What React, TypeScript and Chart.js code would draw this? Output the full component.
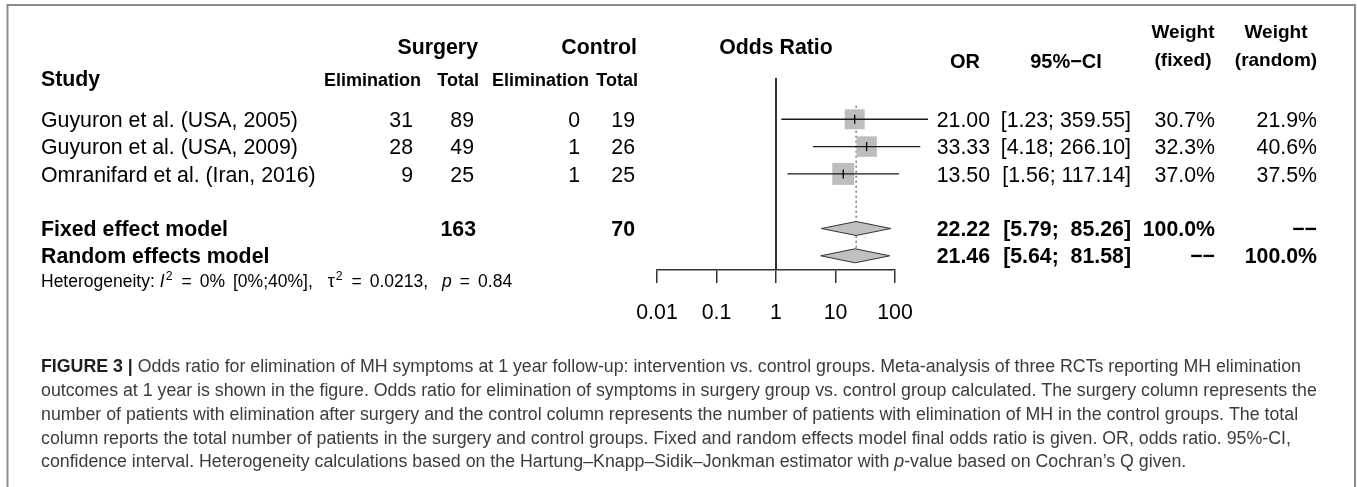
import React, { useEffect, useRef } from "react";
import { Chart, registerables } from "chart.js";

Chart.register(...registerables);

// ---------------- data ----------------
const studyLabels = [
  "Guyuron et al. (USA, 2005)",
  "Guyuron et al. (USA, 2009)",
  "Omranifard et al. (Iran, 2016)",
];
const surgeryElimination = [31, 28, 9];
const surgeryTotal = [89, 49, 25];
const controlElimination = [0, 1, 1];
const controlTotal = [19, 26, 25];
const studyOR = [21.0, 33.33, 13.5];
const studyLower = [1.23, 4.18, 1.56];
const studyUpper = [359.55, 266.1, 117.14];
const studyWeightFixed = [30.7, 32.3, 37.0];
const studyWeightRandom = [21.9, 40.6, 37.5];

const modelLabels = ["Fixed effect model", "Random effects model"];
const modelOR = [22.22, 21.46];
const modelLower = [5.79, 5.64];
const modelUpper = [85.26, 81.58];
const modelWeightFixed = [100.0, null];
const modelWeightRandom = [null, 100.0];
const modelSurgeryTotal = [163, null];
const modelControlTotal = [70, null];

const xTickValues = [0.01, 0.1, 1, 10, 100];
const xTickLabels = ["0.01", "0.1", "1", "10", "100"];

const hetI2 = "0%";
const hetI2Interval = "[0%;40%],";
const hetTau2 = "0.0213,";
const hetP = "0.84";

const captionLines = [
  [
    { t: "FIGURE 3 | ", bold: true, color: "#1e1e1e" },
    { t: "Odds ratio for elimination of MH symptoms at 1 year follow-up: intervention vs. control groups. Meta-analysis of three RCTs reporting MH elimination" },
  ],
  [{ t: "outcomes at 1 year is shown in the figure. Odds ratio for elimination of symptoms in surgery group vs. control group calculated. The surgery column represents the" }],
  [{ t: "number of patients with elimination after surgery and the control column represents the number of patients with elimination of MH in the control groups. The total" }],
  [{ t: "column reports the total number of patients in the surgery and control groups. Fixed and random effects model final odds ratio is given. OR, odds ratio. 95%-CI," }],
  [
    { t: "confidence interval. Heterogeneity calculations based on the Hartung\u2013Knapp\u2013Sidik\u2013Jonkman estimator with " },
    { t: "p", italic: true },
    { t: "-value based on Cochran\u2019s Q given." },
  ],
];

// ---------------- layout / style ----------------
const W = 1357;
const H = 487;
const FONT = '"Liberation Sans", Arial, Helvetica, sans-serif';
const PLOT_LEFT = 657;
const PLOT_RIGHT = 895;
const PLOT_TOP = 78;
const AXIS_Y = 270;
const AXIS_H = 60;
const ROW1_Y = 119.3;
const ROW_H = 27.3;
const Y_MIN = 1 - (ROW1_Y - PLOT_TOP) / ROW_H;
const Y_MAX = 1 + (AXIS_Y - ROW1_Y) / ROW_H;
const DIAMOND_H = 7 / ROW_H;
const BODY = 21.3;
const BASE_OFF = 0.716 * BODY / 2;

const studyRows = studyLabels.map((_, i) => i + 1);
const modelRows = [5, 6];

function setFont(ctx: any, size: number, bold = false, italic = false) {
  ctx.font = `${italic ? "italic " : ""}${bold ? "bold " : ""}${size}px ${FONT}`;
}
function txt(ctx: any, s: string, x: number, y: number, size: number, align = "left", bold = false, italic = false, color = "#000") {
  setFont(ctx, size, bold, italic);
  ctx.textAlign = align;
  ctx.textBaseline = "alphabetic";
  ctx.fillStyle = color;
  ctx.fillText(s, x, y);
}
function segs(ctx: any, list: any[], x0: number, y: number, size: number, color: string) {
  let x = x0;
  ctx.textAlign = "left";
  ctx.textBaseline = "alphabetic";
  for (const s of list) {
    const sz = s.sup ? size * 0.7 : size;
    setFont(ctx, sz, !!s.bold, !!s.italic);
    ctx.fillStyle = s.color || color;
    x += s.gap || 0;
    ctx.fillText(s.t, x, s.sup ? y - size * 0.42 : y);
    x += ctx.measureText(s.t).width;
  }
}
const fmtW = (w: number | null) => (w == null ? "\u2212\u2212" : w.toFixed(1) + "%");
const fmtCI = (lo: number, hi: number) => `[${lo.toFixed(2)}; ${hi.toFixed(2).padStart(6, " ")}]`;

const forestText = {
  id: "forestText",
  afterDraw(chart: any) {
    const ctx = chart.ctx;
    const xs = chart.scales.x;
    const ys = chart.scales.y;
    const rowY = (r: number) => ys.getPixelForValue(r);
    ctx.save();

    // column headers
    txt(ctx, "Surgery", 478, 54, 21.3, "right", true);
    txt(ctx, "Control", 637, 54, 21.3, "right", true);
    txt(ctx, "Odds Ratio", xs.getPixelForValue(1), 54, 21.3, "center", true);
    txt(ctx, "Study", 41, 86, 21.3, "left", true);
    txt(ctx, "Elimination", 421, 86, 18, "right", true);
    txt(ctx, "Total", 479, 86, 18, "right", true);
    txt(ctx, "Elimination", 589, 86, 18, "right", true);
    txt(ctx, "Total", 638, 86, 18, "right", true);
    txt(ctx, "OR", 965, 68, 20, "center", true);
    txt(ctx, "95%\u2212CI", 1066, 68, 20, "center", true);
    txt(ctx, "Weight", 1183, 38, 19, "center", true);
    txt(ctx, "(fixed)", 1183, 66, 19, "center", true);
    txt(ctx, "Weight", 1276, 38, 19, "center", true);
    txt(ctx, "(random)", 1276, 66, 19, "center", true);

    // study rows
    studyLabels.forEach((lab, i) => {
      const y = rowY(studyRows[i]) + BASE_OFF;
      txt(ctx, lab, 41, y, BODY);
      txt(ctx, String(surgeryElimination[i]), 413, y, BODY, "right");
      txt(ctx, String(surgeryTotal[i]), 474, y, BODY, "right");
      txt(ctx, String(controlElimination[i]), 580, y, BODY, "right");
      txt(ctx, String(controlTotal[i]), 635, y, BODY, "right");
      txt(ctx, studyOR[i].toFixed(2), 990, y, BODY, "right");
      txt(ctx, fmtCI(studyLower[i], studyUpper[i]), 1131, y, BODY, "right");
      txt(ctx, fmtW(studyWeightFixed[i]), 1215, y, BODY, "right");
      txt(ctx, fmtW(studyWeightRandom[i]), 1317, y, BODY, "right");
    });

    // pooled rows
    modelLabels.forEach((lab, i) => {
      const y = rowY(modelRows[i]) + BASE_OFF;
      txt(ctx, lab, 41, y, BODY, "left", true);
      if (modelSurgeryTotal[i] != null) txt(ctx, String(modelSurgeryTotal[i]), 476, y, BODY, "right", true);
      if (modelControlTotal[i] != null) txt(ctx, String(modelControlTotal[i]), 635, y, BODY, "right", true);
      txt(ctx, modelOR[i].toFixed(2), 990, y, BODY, "right", true);
      txt(ctx, fmtCI(modelLower[i], modelUpper[i]), 1131, y, BODY, "right", true);
      txt(ctx, fmtW(modelWeightFixed[i]), 1215, y, BODY, "right", true);
      txt(ctx, fmtW(modelWeightRandom[i]), 1317, y, BODY, "right", true);
    });

    // heterogeneity (plotmath-like spacing)
    segs(
      ctx,
      [
        { t: "Heterogeneity:" },
        { t: "I", italic: true, gap: 5 },
        { t: "2", sup: true, gap: 1 },
        { t: "=", gap: 9 },
        { t: hetI2, gap: 8 },
        { t: hetI2Interval, gap: 8 },
        { t: "\u03C4", gap: 15 },
        { t: "2", sup: true, gap: 1 },
        { t: "=", gap: 9 },
        { t: hetTau2, gap: 8 },
        { t: "p", italic: true, gap: 14 },
        { t: "=", gap: 8 },
        { t: hetP, gap: 8 },
      ],
      41,
      287,
      17.5,
      "#000"
    );

    // caption
    setFont(ctx, 100);
    const w2 = ctx.measureText(captionLines[1][0].t).width;
    const capSize = (100 * (1318 - 41)) / w2;
    captionLines.forEach((line, i) => {
      segs(ctx, line, 41, 372 + i * 23.85, capSize, "#3c3c3c");
    });

    // frame
    ctx.strokeStyle = "#8a8a8a";
    ctx.lineWidth = 2;
    ctx.beginPath();
    ctx.moveTo(7.5, H);
    ctx.lineTo(7.5, 5);
    ctx.lineTo(1355, 5);
    ctx.lineTo(1355, H);
    ctx.stroke();
    ctx.restore();
  },
};

function buildDatasets() {
  const ds: any[] = [];
  // line of no effect
  ds.push({
    type: "line",
    data: [{ x: 1, y: Y_MIN }, { x: 1, y: Y_MAX }],
    borderColor: "#333",
    borderWidth: 2,
    pointRadius: 0,
    clip: false,
    order: 20,
  });
  // fixed-effect estimate reference line
  ds.push({
    type: "line",
    data: [{ x: modelOR[0], y: 0.5 }, { x: modelOR[0], y: modelRows[1] - DIAMOND_H }],
    borderColor: "#555",
    borderWidth: 1.2,
    borderDash: [2, 3],
    pointRadius: 0,
    order: 18,
  });
  // squares
  const minW = Math.min(...studyWeightFixed);
  ds.push({
    type: "scatter",
    data: studyOR.map((v, i) => ({ x: v, y: studyRows[i] })),
    pointStyle: "rect",
    pointRadius: studyWeightFixed.map((w) => (20 * Math.sqrt(w / minW)) / Math.SQRT2),
    pointBackgroundColor: "#bdbdbd",
    pointBorderWidth: 0,
    pointBorderColor: "rgba(0,0,0,0)",
    order: 10,
  });
  // confidence intervals
  studyOR.forEach((_, i) => {
    ds.push({
      type: "line",
      data: [{ x: studyLower[i], y: studyRows[i] }, { x: studyUpper[i], y: studyRows[i] }],
      borderColor: "#1a1a1a",
      borderWidth: 1.4,
      pointRadius: 0,
      clip: false,
      order: 5,
    });
  });
  // estimate marks
  ds.push({
    type: "scatter",
    data: studyOR.map((v, i) => ({ x: v, y: studyRows[i] })),
    pointStyle: "line",
    pointRotation: 90,
    pointRadius: 4.5,
    pointBorderColor: "#000",
    pointBorderWidth: 1.3,
    order: 1,
  });
  // pooled diamonds
  modelOR.forEach((v, i) => {
    const r = modelRows[i];
    ds.push({
      type: "line",
      data: [
        { x: modelLower[i], y: r },
        { x: v, y: r - DIAMOND_H },
        { x: modelUpper[i], y: r },
        { x: v, y: r + DIAMOND_H },
        { x: modelLower[i], y: r },
      ],
      fill: "shape",
      backgroundColor: "#c0c0c0",
      borderColor: "#333",
      borderWidth: 1,
      pointRadius: 0,
      tension: 0,
      order: 2,
    });
  });
  return ds;
}

export default function App() {
  const canvasRef = useRef<HTMLCanvasElement | null>(null);
  useEffect(() => {
    document.body.style.margin = "0";
    const canvas = canvasRef.current;
    if (!canvas) return;
    const chart = new Chart(canvas, {
      type: "scatter",
      data: { datasets: buildDatasets() },
      options: {
        animation: false,
        responsive: false,
        maintainAspectRatio: false,
        events: [],
        layout: {
          padding: { left: PLOT_LEFT, right: W - PLOT_RIGHT, top: PLOT_TOP, bottom: H - AXIS_Y - AXIS_H },
        },
        plugins: { legend: { display: false }, tooltip: { enabled: false } },
        scales: {
          x: {
            type: "logarithmic",
            position: "bottom",
            min: xTickValues[0],
            max: xTickValues[xTickValues.length - 1],
            afterBuildTicks: (s: any) => {
              s.ticks = xTickValues.map((v) => ({ value: v }));
            },
            afterFit: (s: any) => {
              s.height = AXIS_H;
            },
            ticks: {
              autoSkip: false,
              maxRotation: 0,
              padding: 17,
              color: "#000",
              font: { family: FONT, size: 21.3 },
              callback: (_v: any, i: number) => xTickLabels[i],
            },
            grid: { drawOnChartArea: false, drawTicks: true, tickLength: 13, color: "#333", lineWidth: 1.5 },
            border: { display: true, color: "#333", width: 1.5 },
          },
          y: { type: "linear", min: Y_MIN, max: Y_MAX, reverse: true, display: false },
        },
      } as any,
      plugins: [forestText],
    } as any);
    return () => chart.destroy();
  }, []);
  return (
    <div style={{ width: W, height: H, background: "#fff", overflow: "hidden" }}>
      <style>{"body{margin:0}"}</style>
      <canvas ref={canvasRef} width={W} height={H} style={{ display: "block" }} />
    </div>
  );
}
